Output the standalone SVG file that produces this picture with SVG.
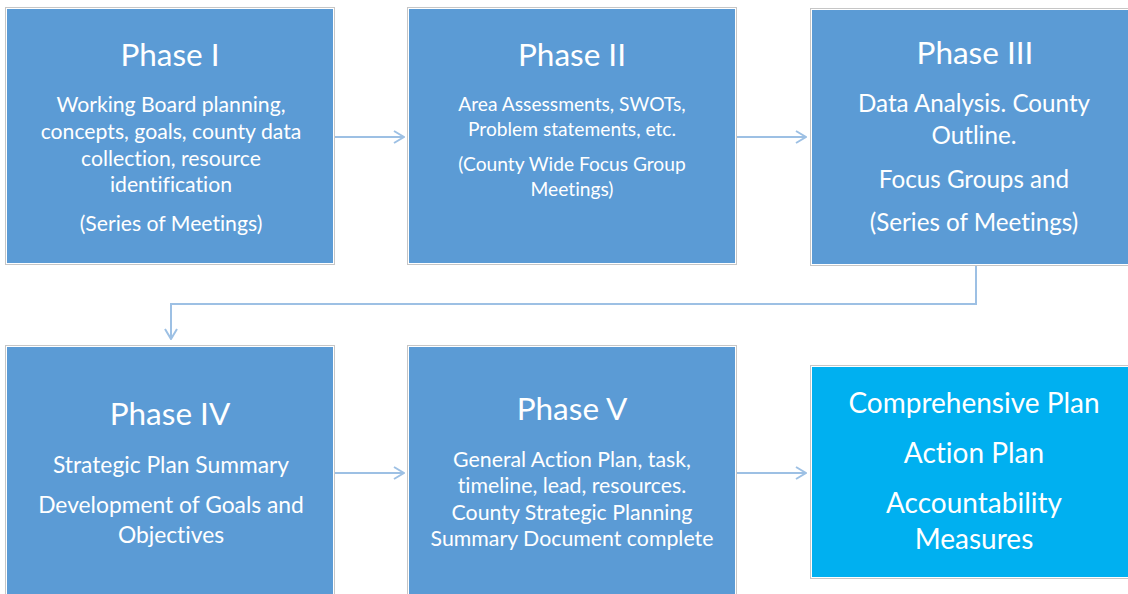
<svg xmlns="http://www.w3.org/2000/svg" width="1128" height="594" viewBox="0 0 1128 594">
<defs>
<style>
.frame{fill:none;stroke:#c6c6c6;stroke-width:1}
.box{fill:#5b9bd5}
.final{fill:#00b0f0}
text{font-family:Lato,"Open Sans","Liberation Sans",sans-serif;fill:#ffffff;text-anchor:middle;font-variant-ligatures:none;font-feature-settings:"liga" 0}
.title{font-size:31.5px}
.b1{font-size:21.2px}
.b2{font-size:19.2px}
.b3{font-size:24.2px}
.b4{font-size:22.8px}
.b5{font-size:21.3px}
.big{font-size:28px}
.conn{fill:none;stroke:#9dc0e4;stroke-width:2}
</style>
<marker id="arrow" viewBox="0 0 12 14" refX="11" refY="7" markerWidth="12" markerHeight="14" markerUnits="userSpaceOnUse" orient="auto">
<path d="M1,1 L11,7 L1,13" fill="none" stroke="#9dc0e4" stroke-width="2"/>
</marker>
</defs>
<rect width="1128" height="594" fill="#ffffff"/>
<g id="connectors">
<line class="conn" x1="334" y1="137" x2="404" y2="137" marker-end="url(#arrow)"/>
<line class="conn" x1="736" y1="137" x2="806" y2="137" marker-end="url(#arrow)"/>
<polyline class="conn" points="976,265 976,304 171,304 171,339" marker-end="url(#arrow)"/>
<line class="conn" x1="334" y1="473" x2="404" y2="473" marker-end="url(#arrow)"/>
<line class="conn" x1="736" y1="473" x2="806" y2="473" marker-end="url(#arrow)"/>
</g>
<g id="phase1">
<rect class="frame" x="5.5" y="7.5" width="329" height="257"/>
<rect class="box" x="7" y="9" width="326" height="254"/>
<text class="title" x="170" y="66">Phase I</text>
<text class="b1" x="171" y="112">Working Board planning,</text>
<text class="b1" x="171" y="139">concepts, goals, county data</text>
<text class="b1" x="171" y="166">collection, resource</text>
<text class="b1" x="171" y="192">identification</text>
<text class="b1" x="171" y="231">(Series of Meetings)</text>
</g>
<g id="phase2">
<rect class="frame" x="407.5" y="7.5" width="329" height="257"/>
<rect class="box" x="409" y="9" width="326" height="254"/>
<text class="title" x="572" y="66">Phase II</text>
<text class="b2" x="572" y="111">Area Assessments, SWOTs,</text>
<text class="b2" x="572" y="136">Problem statements, etc.</text>
<text class="b2" x="572" y="171">(County Wide Focus Group</text>
<text class="b2" x="572" y="196">Meetings)</text>
</g>
<g id="phase3">
<rect class="frame" x="810.5" y="8.5" width="329" height="257"/>
<rect class="box" x="812" y="10" width="326" height="254"/>
<text class="title" x="975" y="64">Phase III</text>
<text class="b3" x="974" y="112">Data Analysis. County</text>
<text class="b3" x="974" y="144">Outline.</text>
<text class="b3" x="974" y="188">Focus Groups and</text>
<text class="b3" x="974" y="231">(Series of Meetings)</text>
</g>
<g id="phase4">
<rect class="frame" x="5.5" y="345.5" width="329" height="257"/>
<rect class="box" x="7" y="347" width="326" height="254"/>
<text class="title" x="170" y="425">Phase IV</text>
<text class="b4" x="171" y="473">Strategic Plan Summary</text>
<text class="b4" x="171" y="513">Development of Goals and</text>
<text class="b4" x="171" y="543">Objectives</text>
</g>
<g id="phase5">
<rect class="frame" x="407.5" y="345.5" width="329" height="257"/>
<rect class="box" x="409" y="347" width="326" height="254"/>
<text class="title" x="572" y="420">Phase V</text>
<text class="b5" x="572" y="467">General Action Plan, task,</text>
<text class="b5" x="572" y="493">timeline, lead, resources.</text>
<text class="b5" x="572" y="520">County Strategic Planning</text>
<text class="b5" x="572" y="546">Summary Document complete</text>
</g>
<g id="result">
<rect class="frame" x="810.5" y="365.5" width="329" height="213"/>
<rect class="final" x="812" y="367" width="326" height="210"/>
<text class="big" x="974" y="413">Comprehensive Plan</text>
<text class="big" x="974" y="463">Action Plan</text>
<text class="big" x="974" y="513">Accountability</text>
<text class="big" x="974" y="549">Measures</text>
</g>
</svg>
